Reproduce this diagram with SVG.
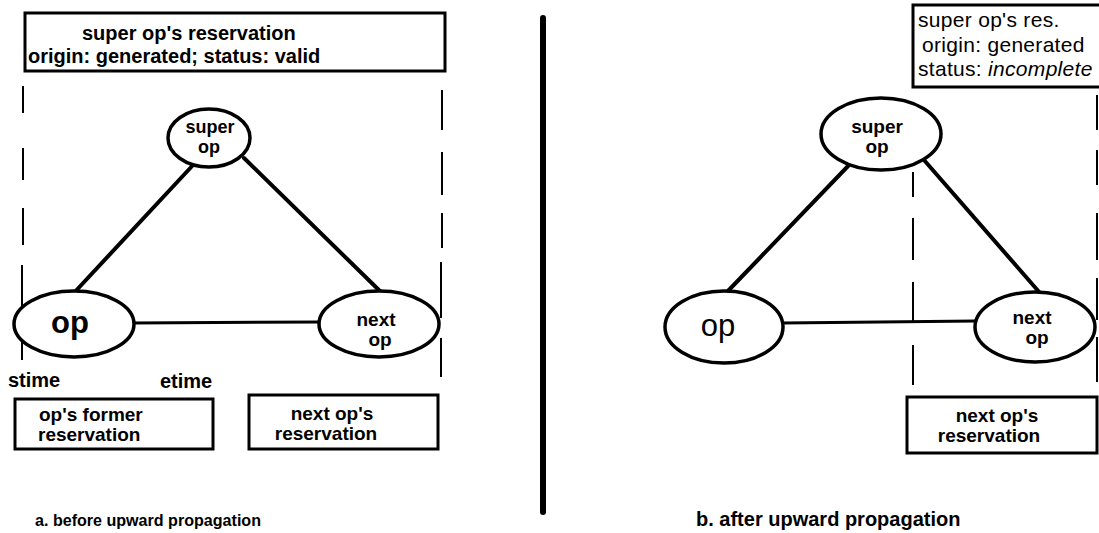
<svg xmlns="http://www.w3.org/2000/svg" width="1099" height="533" viewBox="0 0 1099 533">
<style>
.bg{fill:#fff}
.box{fill:#fff;stroke:#000;stroke-width:3}
.node{fill:#fff;stroke:#000;stroke-width:3.5}
.edge{stroke:#000;stroke-width:4;fill:none;stroke-linecap:round}
.hedge{stroke:#000;stroke-width:3;fill:none}
.dash{stroke:#000;stroke-width:2;fill:none}
.bar{stroke:#000;stroke-width:6;stroke-linecap:round}
text{font-family:"Liberation Sans",Arial,sans-serif;fill:#000}
.b{font-weight:bold}
.t20{font-size:20px}
.t19{font-size:19px}
.t18{font-size:18px}
.r21{font-size:21px;letter-spacing:0.3px}
.mid{text-anchor:middle}
</style>
<rect class="bg" x="0" y="0" width="1099" height="533"/>

<!-- divider -->
<line class="bar" x1="543" y1="18" x2="543" y2="512"/>

<!-- connectors -->
<g id="connectors">
  <!-- panel a -->
  <line class="edge" x1="194" y1="164" x2="72" y2="295"/>
  <line class="edge" x1="244" y1="158" x2="385" y2="296"/>
  <line class="hedge" x1="133" y1="323" x2="320" y2="322"/>
  <!-- panel b -->
  <line class="edge" x1="850" y1="164" x2="727" y2="292"/>
  <line class="edge" x1="924" y1="160" x2="1040" y2="293"/>
  <line class="hedge" x1="783" y1="323" x2="976" y2="321"/>
  <!-- dashed bounds a -->
  <g class="dash">
    <line x1="23" y1="86" x2="23" y2="113"/>
    <line x1="23" y1="148" x2="23" y2="180"/>
    <line x1="23" y1="208" x2="23" y2="245"/>
    <line x1="22" y1="265" x2="22" y2="360"/>
    <line x1="442" y1="90" x2="442" y2="130"/>
    <line x1="442" y1="152" x2="442" y2="195"/>
    <line x1="442" y1="213" x2="442" y2="248"/>
    <line x1="441" y1="262" x2="441" y2="318"/>
    <line x1="441" y1="338" x2="441" y2="377"/>
  </g>
  <!-- dashed bounds b -->
  <g class="dash">
    <line x1="913" y1="172" x2="913" y2="197"/>
    <line x1="913" y1="218" x2="913" y2="260"/>
    <line x1="913" y1="282" x2="913" y2="323"/>
    <line x1="913" y1="345" x2="913" y2="385"/>
    <line x1="1097" y1="95" x2="1097" y2="130"/>
    <line x1="1097" y1="150" x2="1097" y2="185"/>
    <line x1="1097" y1="213" x2="1097" y2="260"/>
    <line x1="1097" y1="278" x2="1097" y2="320"/>
    <line x1="1097" y1="337" x2="1097" y2="382"/>
  </g>
</g>

<!-- panel a -->
<g id="a-super-res">
  <rect class="box" x="25" y="13" width="420" height="58"/>
  <text class="b t20" x="82" y="40">super op's reservation</text>
  <text class="b t20" x="28" y="63">origin: generated; status: valid</text>
</g>
<g id="a-super-op">
  <ellipse class="node" cx="209" cy="138" rx="41" ry="29"/>
  <text class="b t18 mid" x="210" y="133">super</text>
  <text class="b t18 mid" x="209" y="153">op</text>
</g>
<g id="a-op">
  <ellipse class="node" cx="74" cy="324" rx="60" ry="33"/>
  <text class="b mid" style="font-size:31px" x="70" y="333">op</text>
</g>
<g id="a-next-op">
  <ellipse class="node" cx="379" cy="324" rx="60" ry="33"/>
  <text class="b t19 mid" x="376" y="326">next</text>
  <text class="b t19 mid" x="380" y="346">op</text>
</g>
<g id="a-times">
  <text class="b t20" x="8" y="387">stime</text>
  <text class="b t20" x="160" y="388">etime</text>
</g>
<g id="a-op-former-res">
  <rect class="box" x="15" y="399" width="198" height="50"/>
  <text class="b t19" x="39" y="421">op's former</text>
  <text class="b t19" x="38" y="441">reservation</text>
</g>
<g id="a-next-op-res">
  <rect class="box" x="249" y="395" width="189" height="54"/>
  <text class="b t19 mid" x="332" y="420">next op's</text>
  <text class="b t19 mid" x="326" y="440">reservation</text>
</g>
<text id="caption-a" class="b" style="font-size:17px" x="35" y="526" textLength="226" lengthAdjust="spacingAndGlyphs">a. before upward propagation</text>

<!-- panel b -->
<g id="b-super-res">
  <rect class="box" x="913" y="5" width="195" height="82"/>
  <text class="r21" x="918" y="27">super op's res.</text>
  <text class="r21" x="922" y="52">origin: generated</text>
  <text class="r21" x="918" y="76">status: <tspan font-style="italic">incomplete</tspan></text>
</g>
<g id="b-super-op">
  <ellipse class="node" cx="881" cy="134" rx="60" ry="36"/>
  <text class="b t19 mid" x="877" y="133">super</text>
  <text class="b t19 mid" x="877" y="153">op</text>
</g>
<g id="b-op">
  <ellipse class="node" cx="724" cy="327" rx="59" ry="36"/>
  <text class="mid" style="font-size:31px" x="718" y="336">op</text>
</g>
<g id="b-next-op">
  <ellipse class="node" cx="1035" cy="327" rx="60" ry="35"/>
  <text class="b t19 mid" x="1032" y="324">next</text>
  <text class="b t19 mid" x="1037" y="344">op</text>
</g>
<g id="b-next-op-res">
  <rect class="box" x="907" y="397" width="190" height="56"/>
  <text class="b t19 mid" x="997" y="422">next op's</text>
  <text class="b t19 mid" x="989" y="442">reservation</text>
</g>
<text id="caption-b" class="b t20" x="696" y="526">b. after upward propagation</text>
</svg>
